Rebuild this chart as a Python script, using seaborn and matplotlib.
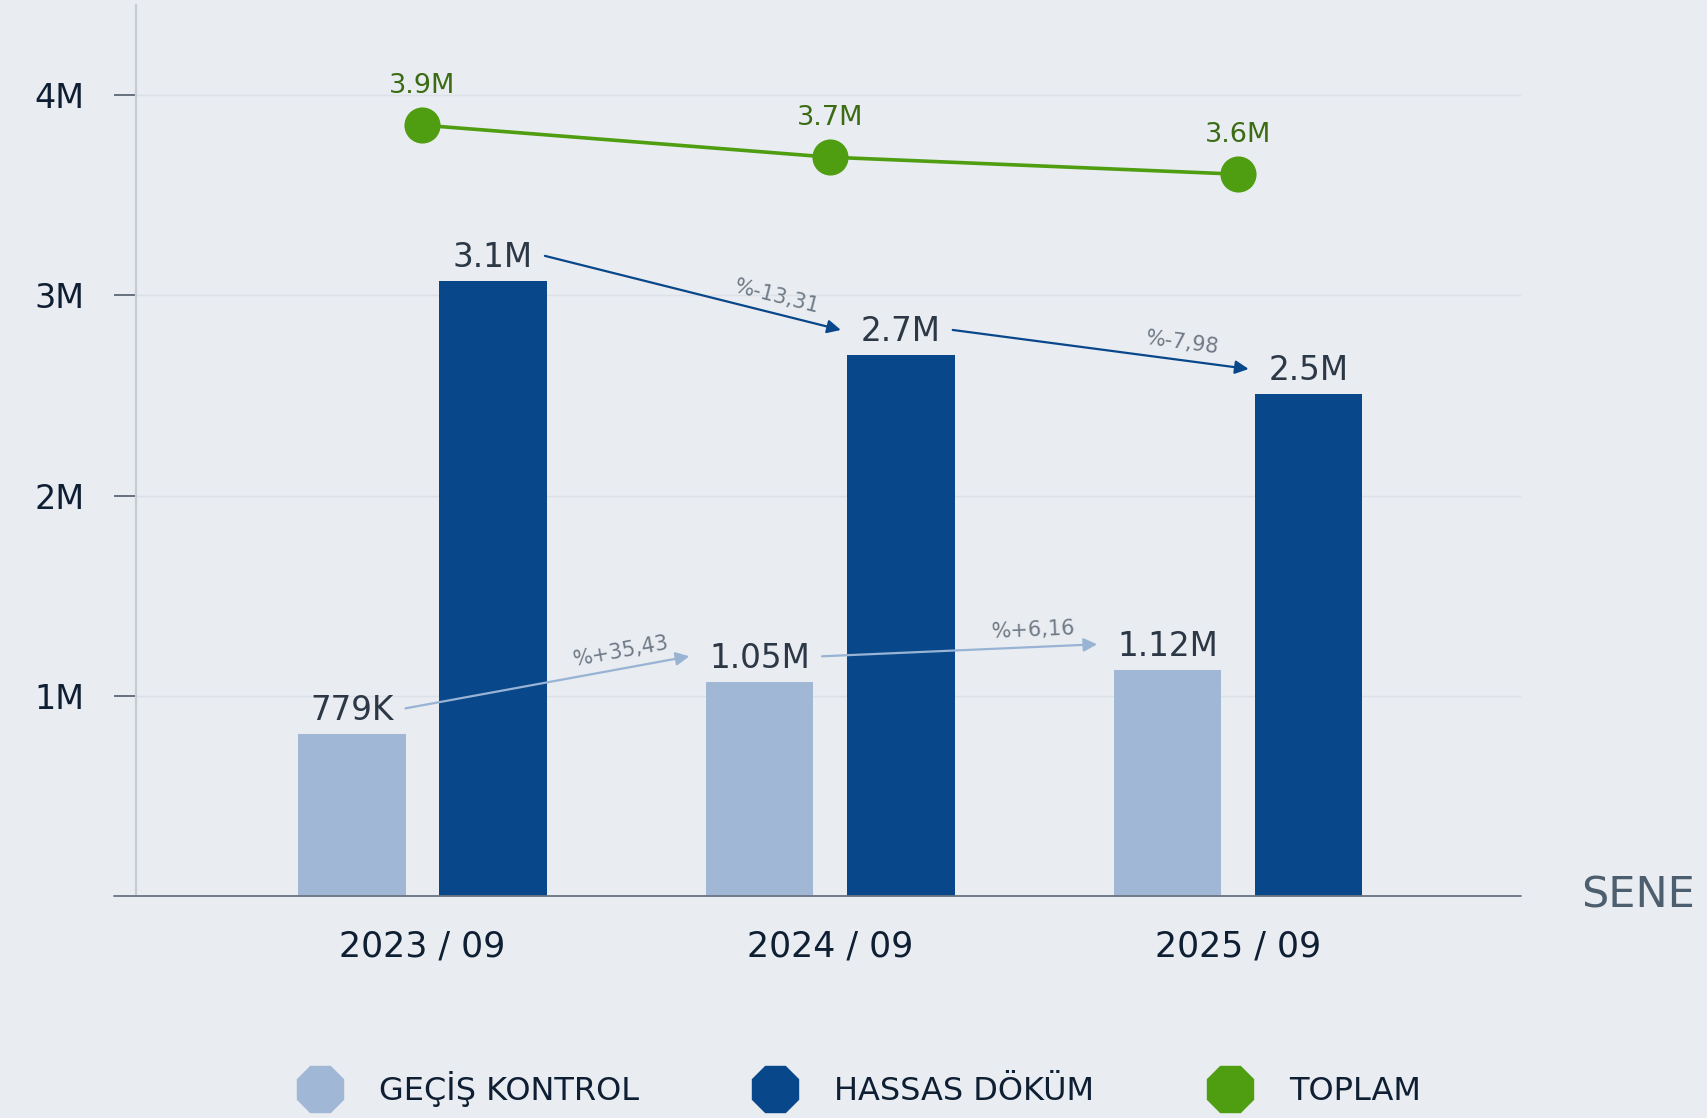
import math
import matplotlib
matplotlib.use("Agg")
import matplotlib.pyplot as plt
from matplotlib.lines import Line2D
import pandas as pd
import seaborn as sns


PERIODS = ["2023 / 09", "2024 / 09", "2025 / 09"]
SERIES = ["GEÇİŞ KONTROL", "HASSAS DÖKÜM", "TOPLAM"]

GECIS = [810_000, 1_070_000, 1_130_000]
HASSAS = [3_070_000, 2_700_000, 2_505_000]
TOPLAM = [3_850_000, 3_690_000, 3_605_000]

GECIS_LABELS = ["779K", "1.05M", "1.12M"]
HASSAS_LABELS = ["3.1M", "2.7M", "2.5M"]
TOPLAM_LABELS = ["3.9M", "3.7M", "3.6M"]

GECIS_CHANGES = ["%+35,43", "%+6,16"]
HASSAS_CHANGES = ["%-13,31", "%-7,98"]

Y_TICKS = [1_000_000, 2_000_000, 3_000_000, 4_000_000]
Y_TICK_LABELS = ["1M", "2M", "3M", "4M"]

BG = "#e9ecf1"
LIGHT = "#a0b8d6"
DARK = "#08478a"
GREEN = "#4f9d10"
GREEN_TEXT = "#3b6c14"
TEXT = "#0f1f33"
LABEL_TEXT = "#2c3846"
PCT_TEXT = "#6f7a87"
LIGHT_ARROW = "#98b3d4"


sns.set_theme(style="white")
plt.rcParams["font.family"] = ["DejaVu Sans"]

fig = plt.figure(figsize=(17.07, 11.18), dpi=100, facecolor=BG)
ax = fig.add_axes([0.0797, 0.1986, 0.8114, 0.7969])
ax.set_facecolor(BG)

df = pd.DataFrame({
    "period": PERIODS * 2,
    "series": [SERIES[0]] * len(PERIODS) + [SERIES[1]] * len(PERIODS),
    "value": GECIS + HASSAS,
})

sns.barplot(
    data=df, x="period", y="value", hue="series", hue_order=SERIES[:2],
    palette=[LIGHT, DARK], saturation=1, width=0.692, gap=0.237,
    errorbar=None, legend=False, ax=ax, zorder=2, linewidth=0,
    edgecolor="none",
)

sns.pointplot(
    x=PERIODS, y=TOPLAM, color=GREEN, markers="o", errorbar=None,
    markersize=26, linewidth=2.6, markeredgewidth=0, ax=ax, zorder=4,
)

ax.set_xlim(-0.702, 2.694)
ax.set_ylim(0, 4.45e6)
ax.set_xlabel("")
ax.set_ylabel("")

ax.set_yticks(Y_TICKS)
ax.set_yticklabels(Y_TICK_LABELS)
ax.tick_params(axis="y", length=16, width=1.3, color="#5d6874", pad=21,
               labelsize=24, labelcolor=TEXT, left=True)
ax.tick_params(axis="x", length=0, pad=24, labelsize=25, labelcolor=TEXT)

ax.yaxis.grid(True, color="#dce1e7", lw=1)
ax.set_axisbelow(True)
for side in ["top", "right", "bottom"]:
    ax.spines[side].set_visible(False)
ax.spines["left"].set_color("#c5ccd5")
ax.spines["left"].set_linewidth(1.6)
ax.plot([-0.0159, 1], [0, 0], transform=ax.transAxes, clip_on=False,
        color="#6a7582", lw=1.3, zorder=5)

ax.text(1.043, 0, "SENE", transform=ax.transAxes, ha="left", va="center",
        fontsize=31, color="#4d5e6e")

# value labels
gecis_txt = []
hassas_txt = []
for container, labels, store in [(ax.containers[0], GECIS_LABELS, gecis_txt),
                                 (ax.containers[1], HASSAS_LABELS, hassas_txt)]:
    for rect, lab in zip(container.patches, labels):
        x = rect.get_x() + rect.get_width() / 2
        t = ax.annotate(lab, (x, rect.get_height()), xytext=(0, 5),
                        textcoords="offset points", ha="center", va="bottom",
                        fontsize=23.5, color=LABEL_TEXT, zorder=6)
        store.append(t)

for i, lab in enumerate(TOPLAM_LABELS):
    ax.annotate(lab, (i, TOPLAM[i]), xytext=(0, 19), textcoords="offset points",
                ha="center", va="bottom", fontsize=19.5, color=GREEN_TEXT, zorder=6)

# change arrows between labels
fig.canvas.draw()
renderer = fig.canvas.get_renderer()
inv = ax.transData.inverted()

for texts, changes, color in [(gecis_txt, GECIS_CHANGES, LIGHT_ARROW),
                              (hassas_txt, HASSAS_CHANGES, DARK)]:
    for i, pct in enumerate(changes):
        b0 = texts[i].get_window_extent(renderer)
        b1 = texts[i + 1].get_window_extent(renderer)
        p0 = (b0.x1 + 12, (b0.y0 + b0.y1) / 2 + 2)
        p1 = (b1.x0 - 20, (b1.y0 + b1.y1) / 2 + 2)
        ax.annotate("", xy=inv.transform(p1), xytext=inv.transform(p0),
                    arrowprops=dict(arrowstyle="-|>", color=color, lw=1.6,
                                    mutation_scale=20, shrinkA=0, shrinkB=0),
                    zorder=6)
        dx, dy = p1[0] - p0[0], p1[1] - p0[1]
        length = math.hypot(dx, dy)
        ang = math.degrees(math.atan2(dy, dx))
        t = 0.77
        px = p0[0] + t * dx - dy / length * 17
        py = p0[1] + t * dy + dx / length * 17
        tx, ty = inv.transform((px, py))
        ax.text(tx, ty, pct, rotation=ang, rotation_mode="anchor",
                ha="center", va="center", fontsize=15, color=PCT_TEXT, zorder=6)

handles = [
    Line2D([0], [0], marker="8", ls="none", ms=36, mfc=c, mec=c)
    for c in [LIGHT, DARK, GREEN]
]
fig.legend(handles, SERIES, loc="center", bbox_to_anchor=(0.503, 0.026),
           ncol=3, frameon=False, fontsize=23, handlelength=1.5,
           handletextpad=1.1, columnspacing=3.5, labelcolor=TEXT)

fig.savefig("out.png", dpi=100, facecolor=BG)
